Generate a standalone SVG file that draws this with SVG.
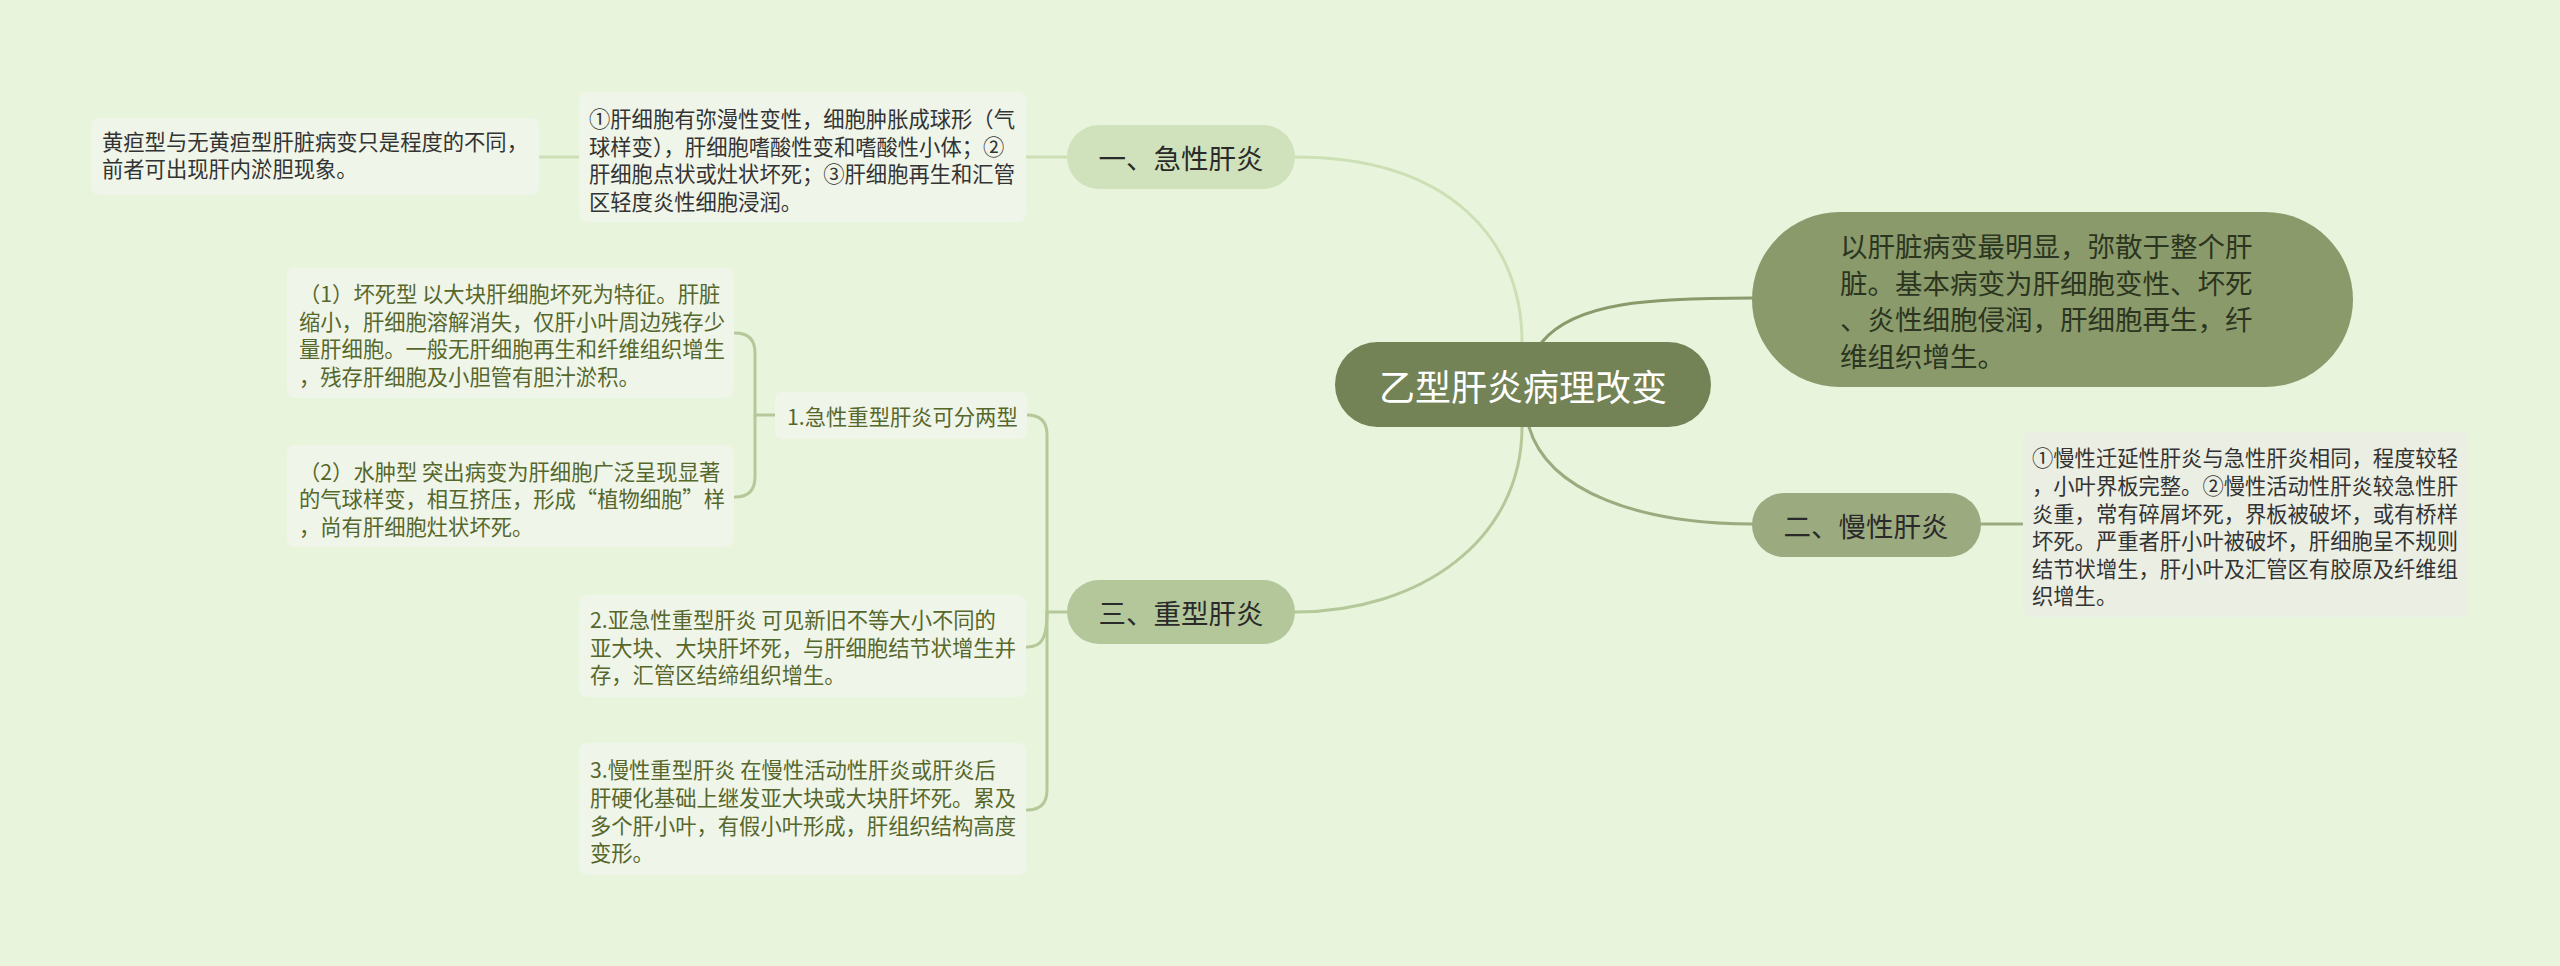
<svg xmlns="http://www.w3.org/2000/svg" width="2560" height="966" viewBox="0 0 2560 966">
<style>
text{font-family:"Noto Sans CJK SC","Noto Sans",sans-serif;}
.box{fill:#f0f5e9;}
.t{font-size:21.3px;fill:#333333;}
.tg{font-size:21.3px;fill:#56672c;}
.lbl{font-size:27.5px;fill:#2a2a2a;text-anchor:middle;dominant-baseline:central;}
.c{fill:none;stroke-width:3;stroke-linecap:round;}
</style>
<rect x="0" y="0" width="2560" height="966" fill="#e8f5dc"/>
<g id="connectors">
<path class="c" stroke="#cde0b5" d="M1295 157 C1450 157 1522 240 1522 342"/>
<path class="c" stroke="#cde0b5" d="M1026 157 L1067 157"/>
<path class="c" stroke="#cde0b5" d="M539 157 L579 157"/>
<path class="c" stroke="#b5c89a" d="M1522 427 C1522 540 1420 612 1295 612"/>
<path class="c" stroke="#b5c89a" d="M1067 612 L1047 612"/>
<path class="c" stroke="#b5c89a" d="M1047 612 L1047 435 Q1047 415 1027 415"/>
<path class="c" stroke="#b5c89a" d="M1047 612 L1047 790 Q1047 810 1027 810"/>
<path class="c" stroke="#b5c89a" d="M1047 612 C1047 638 1042 647 1027 647"/>
<path class="c" stroke="#b5c89a" d="M775 415 L755 415"/>
<path class="c" stroke="#b5c89a" d="M735 333 Q755 333 755 353 L755 477 Q755 497 735 497"/>
<path class="c" stroke="#8a9a6b" d="M1542 342 C1575 302 1650 298 1752 298"/>
<path class="c" stroke="#9cab7f" d="M1529 427 C1548 492 1640 524 1753 524"/>
<path class="c" stroke="#9cab7f" d="M1981 524 L2022 524"/>
</g>
<g id="root">
<rect x="1335" y="342" width="376" height="85" rx="42.5" fill="#738355"/>
<text x="1523" y="385" style="font-size:36px;fill:#ffffff;text-anchor:middle;dominant-baseline:central;">乙型肝炎病理改变</text>
</g>
<g id="n1">
<rect x="1067" y="125" width="228" height="64" rx="32" fill="#d0e2bb"/>
<text class="lbl" x="1181" y="157">一、急性肝炎</text>
</g>
<g id="n1a">
<rect class="box" x="579" y="92" width="447" height="130" rx="8"/>
<text class="t" x="589" y="127">①肝细胞有弥漫性变性，细胞肿胀成球形（气</text>
<text class="t" x="589" y="154.5">球样变），肝细胞嗜酸性变和嗜酸性小体；②</text>
<text class="t" x="589" y="182">肝细胞点状或灶状坏死；③肝细胞再生和汇管</text>
<text class="t" x="589" y="209.5">区轻度炎性细胞浸润。</text>
</g>
<g id="n1b">
<rect class="box" x="91" y="118" width="448" height="77" rx="8"/>
<text class="t" x="102" y="150">黄疸型与无黄疸型肝脏病变只是程度的不同，</text>
<text class="t" x="102" y="177">前者可出现肝内淤胆现象。</text>
</g>
<g id="n3">
<rect x="1067" y="580" width="228" height="64" rx="32" fill="#b4c79b"/>
<text class="lbl" x="1181" y="612">三、重型肝炎</text>
</g>
<g id="n3a">
<rect class="box" x="775" y="392" width="252" height="47" rx="8"/>
<text class="tg" x="787" y="415.5" style="dominant-baseline:central;">1.急性重型肝炎可分两型</text>
</g>
<g id="n3a1">
<rect class="box" x="287" y="268" width="447" height="130" rx="8"/>
<text class="tg" x="299" y="301.5">（1）坏死型 以大块肝细胞坏死为特征。肝脏</text>
<text class="tg" x="299" y="329.5">缩小，肝细胞溶解消失，仅肝小叶周边残存少</text>
<text class="tg" x="299" y="357">量肝细胞。一般无肝细胞再生和纤维组织增生</text>
<text class="tg" x="299" y="384.5">，残存肝细胞及小胆管有胆汁淤积。</text>
</g>
<g id="n3a2">
<rect class="box" x="287" y="445" width="447" height="102" rx="8"/>
<text class="tg" x="299" y="480">（2）水肿型 突出病变为肝细胞广泛呈现显著</text>
<text class="tg" x="299" y="506.5">的气球样变，相互挤压，形成“植物细胞”样</text>
<text class="tg" x="299" y="534.5">，尚有肝细胞灶状坏死。</text>
</g>
<g id="n3b">
<rect class="box" x="579" y="595" width="447" height="102" rx="8"/>
<text class="tg" x="590" y="628">2.亚急性重型肝炎 可见新旧不等大小不同的</text>
<text class="tg" x="590" y="656">亚大块、大块肝坏死，与肝细胞结节状增生并</text>
<text class="tg" x="590" y="683">存，汇管区结缔组织增生。</text>
</g>
<g id="n3c">
<rect class="box" x="579" y="743" width="447" height="132" rx="8"/>
<text class="tg" x="590" y="778">3.慢性重型肝炎 在慢性活动性肝炎或肝炎后</text>
<text class="tg" x="590" y="806">肝硬化基础上继发亚大块或大块肝坏死。累及</text>
<text class="tg" x="590" y="834">多个肝小叶，有假小叶形成，肝组织结构高度</text>
<text class="tg" x="590" y="861">变形。</text>
</g>
<g id="nr">
<rect x="1752" y="212" width="601" height="175" rx="87.5" fill="#8a9a6b"/>
<text x="1840" y="257" style="font-size:27.5px;fill:#2b3520;">以肝脏病变最明显，弥散于整个肝</text>
<text x="1840" y="293.5" style="font-size:27.5px;fill:#2b3520;">脏。基本病变为肝细胞变性、坏死</text>
<text x="1840" y="330" style="font-size:27.5px;fill:#2b3520;">、炎性细胞侵润，肝细胞再生，纤</text>
<text x="1840" y="367" style="font-size:27.5px;fill:#2b3520;">维组织增生。</text>
</g>
<g id="n2">
<rect x="1752" y="493" width="229" height="64" rx="32" fill="#9cab7f"/>
<text class="lbl" x="1866" y="525">二、慢性肝炎</text>
</g>
<g id="n2a">
<rect x="2023" y="432" width="445" height="185" rx="8" fill="#ebeee3"/>
<text class="t" x="2032" y="466">①慢性迁延性肝炎与急性肝炎相同，程度较轻</text>
<text class="t" x="2032" y="494">，小叶界板完整。②慢性活动性肝炎较急性肝</text>
<text class="t" x="2032" y="521.5">炎重，常有碎屑坏死，界板被破坏，或有桥样</text>
<text class="t" x="2032" y="549">坏死。严重者肝小叶被破坏，肝细胞呈不规则</text>
<text class="t" x="2032" y="576.5">结节状增生，肝小叶及汇管区有胶原及纤维组</text>
<text class="t" x="2032" y="604">织增生。</text>
</g>
</svg>
